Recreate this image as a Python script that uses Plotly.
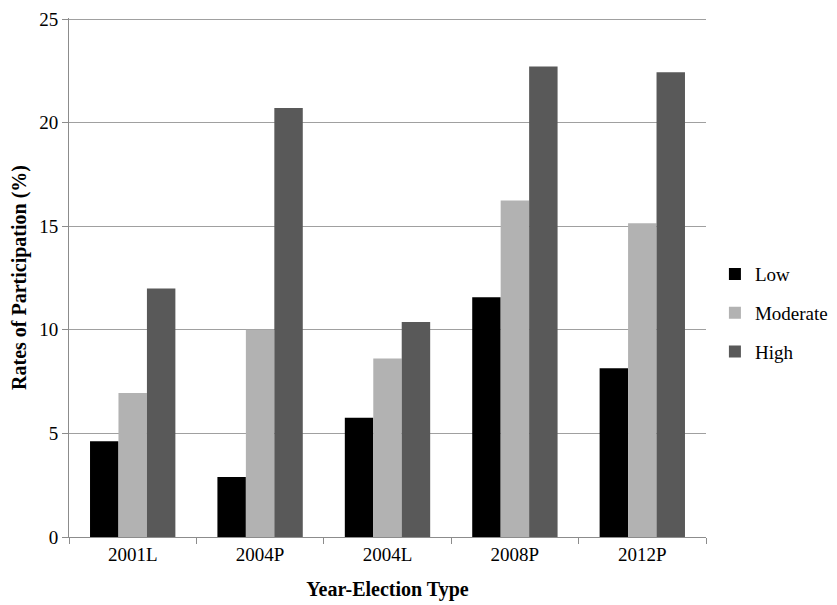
import plotly.graph_objects as go

categories = ["2001L", "2004P", "2004L", "2008P", "2012P"]
low = [4.62, 2.9, 5.76, 11.57, 8.14]
moderate = [6.95, 10.0, 8.62, 16.24, 15.14]
high = [12.0, 20.71, 10.38, 22.71, 22.43]

series = [("Low", low, "#000000"), ("Moderate", moderate, "#b2b2b2"), ("High", high, "#595959")]

fig = go.Figure()
for i, (name, vals, color) in enumerate(series):
    fig.add_trace(go.Bar(x=categories, y=vals, name=name, marker=dict(color=color, line=dict(width=0)),
                         legendgroup=str(i)))

font = "Liberation Serif"
fig.update_layout(
    width=837, height=605,
    margin=dict(l=61, r=139, t=10, b=76, autoexpand=False),
    paper_bgcolor="white", plot_bgcolor="white",
    barmode="group", bargap=0.33, bargroupgap=0,
    font=dict(family=font, size=19, color="black"),
    showlegend=True,
    legend=dict(x=1.014, y=0.543, xanchor="left", yanchor="top", tracegroupgap=11,
                font=dict(size=19, family=font), itemwidth=30, traceorder="grouped",
                bgcolor="rgba(0,0,0,0)"),
    xaxis=dict(
        title=dict(text="<b>Year-Election Type</b>", font=dict(size=20, family=font), standoff=18),
        showline=True, linecolor="#8c8c8c", linewidth=1, automargin=False,
        ticks="outside", ticklen=6, tickcolor="#8c8c8c", tickson="boundaries",
        tickfont=dict(size=19, family=font),
    ),
    yaxis=dict(
        title=dict(text="<b>Rates of Participation (%)</b>", font=dict(size=20, family=font), standoff=11),
        range=[0, 25.05], tick0=0, dtick=5, showline=True, linecolor="#8c8c8c", linewidth=1, automargin=False,
        showgrid=True, gridcolor="#a0a0a0", gridwidth=1, ticklabeloverflow="allow",
        ticks="outside", ticklen=6, tickcolor="#8c8c8c",
        tickfont=dict(size=19, family=font), zeroline=False,
    ),
)
fig.write_html("out.html")
